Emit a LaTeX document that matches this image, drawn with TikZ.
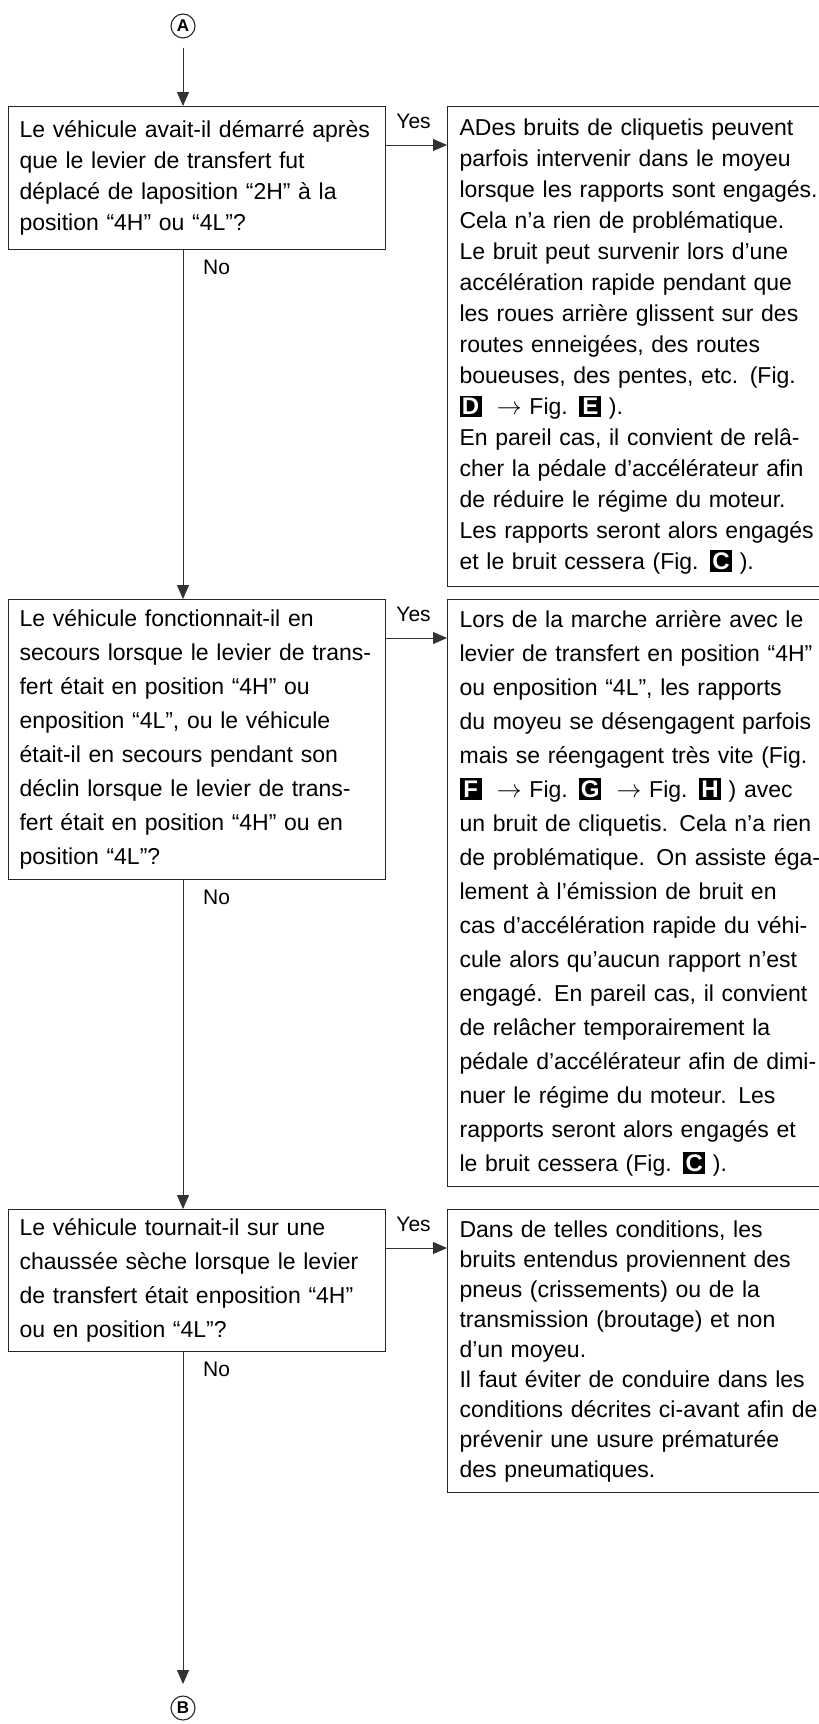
\documentclass[tikz,border=0pt]{standalone}
\usepackage{fontspec}
\newfontfamily\chartfont{Liberation Sans}
\usetikzlibrary{arrows.meta}
\newcommand{\figkey}[1]{{\setlength{\fboxsep}{2.5pt}\colorbox{black}{\makebox[17pt]{\textcolor{white}{\bfseries\fontsize{24}{24}\selectfont #1}}}}}
\tikzset{
  box/.style={draw=black!85, line width=1.2pt, rectangle, anchor=north west, align=left,
    inner ysep=0pt},
  qbox/.style={box, text width=355pt, inner xsep=11pt},
  abox/.style={box, text width=420pt, inner xsep=12pt},
  txtpitch/.style={font=\chartfont\fontsize{23}{#1}\selectfont},
  circ/.style={circle, draw=black!85, line width=1.1pt, minimum size=24pt, inner sep=0pt,
    font=\chartfont\bfseries\fontsize{17}{17}\selectfont},
  flow/.style={draw=black!80, line width=1pt, -{Triangle[width=12pt,length=14pt]}},
  lbl/.style={font=\chartfont\fontsize{21}{21}\selectfont, inner sep=0pt}
}
\begin{document}
\begin{tikzpicture}[x=1pt, y=-1pt]
% page frame, right hand boxes run off the page
\useasboundingbox (0,0) rectangle (819,1724);
\clip (0,0) rectangle (819,1724);
% connectors A and B
\node[circ] (cA) at (183,26) {A};
\node[circ] (cB) at (183,1708) {B};
% questions
\node[qbox, txtpitch=31, minimum height=143pt] (q1) at (8,106) {Le véhicule avait-il démarré après\\
que le levier de transfert fut\\
déplacé de laposition “2H” à la\\
position “4H” ou “4L”?};
\node[qbox, txtpitch=34, minimum height=280pt] (q2) at (8,599) {Le véhicule fonctionnait-il en\\
secours lorsque le levier de trans-\\
fert était en position “4H” ou\\
enposition “4L”, ou le véhicule\\
était-il en secours pendant son\\
déclin lorsque le levier de trans-\\
fert était en position “4H” ou en\\
position “4L”?};
\node[qbox, txtpitch=34, minimum height=142pt] (q3) at (8,1209) {Le véhicule tournait-il sur une\\
chaussée sèche lorsque le levier\\
de transfert était enposition “4H”\\
ou en position “4L”?};
% answers
\node[abox, txtpitch=31, minimum height=480pt] (a1) at (447,106) {ADes bruits de cliquetis peuvent\\
parfois intervenir dans le moyeu\\
lorsque les rapports sont engagés.\\
Cela n’a rien de problématique.\\
Le bruit peut survenir lors d’une\\
accélération rapide pendant que\\
les roues arrière glissent sur des\\
routes enneigées, des routes\\
boueuses, des pentes, etc. (Fig.\\
\figkey{D} \ $\rightarrow$ Fig. \figkey{E} ).\\
En pareil cas, il convient de relâ-\\
cher la pédale d’accélérateur afin\\
de réduire le régime du moteur.\\
Les rapports seront alors engagés\\
et le bruit cessera (Fig. \figkey{C} ).};
\node[abox, txtpitch=34, minimum height=587pt] (a2) at (447,599) {Lors de la marche arrière avec le\\
levier de transfert en position “4H”\\
ou enposition “4L”, les rapports\\
du moyeu se désengagent parfois\\
mais se réengagent très vite (Fig.\\
\figkey{F} \ $\rightarrow$ Fig. \figkey{G} \ $\rightarrow$ Fig. \figkey{H} ) avec\\
un bruit de cliquetis. Cela n’a rien\\
de problématique. On assiste éga-\\
lement à l’émission de bruit en\\
cas d’accélération rapide du véhi-\\
cule alors qu’aucun rapport n’est\\
engagé. En pareil cas, il convient\\
de relâcher temporairement la\\
pédale d’accélérateur afin de dimi-\\
nuer le régime du moteur. Les\\
rapports seront alors engagés et\\
le bruit cessera (Fig. \figkey{C} ).};
\node[abox, txtpitch=30, minimum height=283pt] (a3) at (447,1209) {Dans de telles conditions, les\\
bruits entendus proviennent des\\
pneus (crissements) ou de la\\
transmission (broutage) et non\\
d’un moyeu.\\
Il faut éviter de conduire dans les\\
conditions décrites ci-avant afin de\\
prévenir une usure prématurée\\
des pneumatiques.};
% main line
\draw[flow, shorten <=9pt] (cA) -- (cA |- q1.north);
\draw[flow] (cA |- q1.south) -- (cA |- q2.north);
\draw[flow] (cA |- q2.south) -- (cA |- q3.north);
\draw[flow, shorten >=24pt] (cA |- q3.south) -- (cB.center);
% yes / no branches
\foreach \i in {1,2,3} {
  \coordinate (y\i) at ([yshift=-39pt]q\i.north east);
  \draw[flow] (y\i) -- (y\i -| a\i.west);
  \node[lbl, anchor=base west] (yes\i) at ([xshift=10pt,yshift=-22pt]q\i.north east) {Yes};
  \node[lbl, anchor=north west] (no\i) at ([xshift=20pt,yshift=-10pt]cA |- q\i.south) {No};
}
\end{tikzpicture}
\end{document}
